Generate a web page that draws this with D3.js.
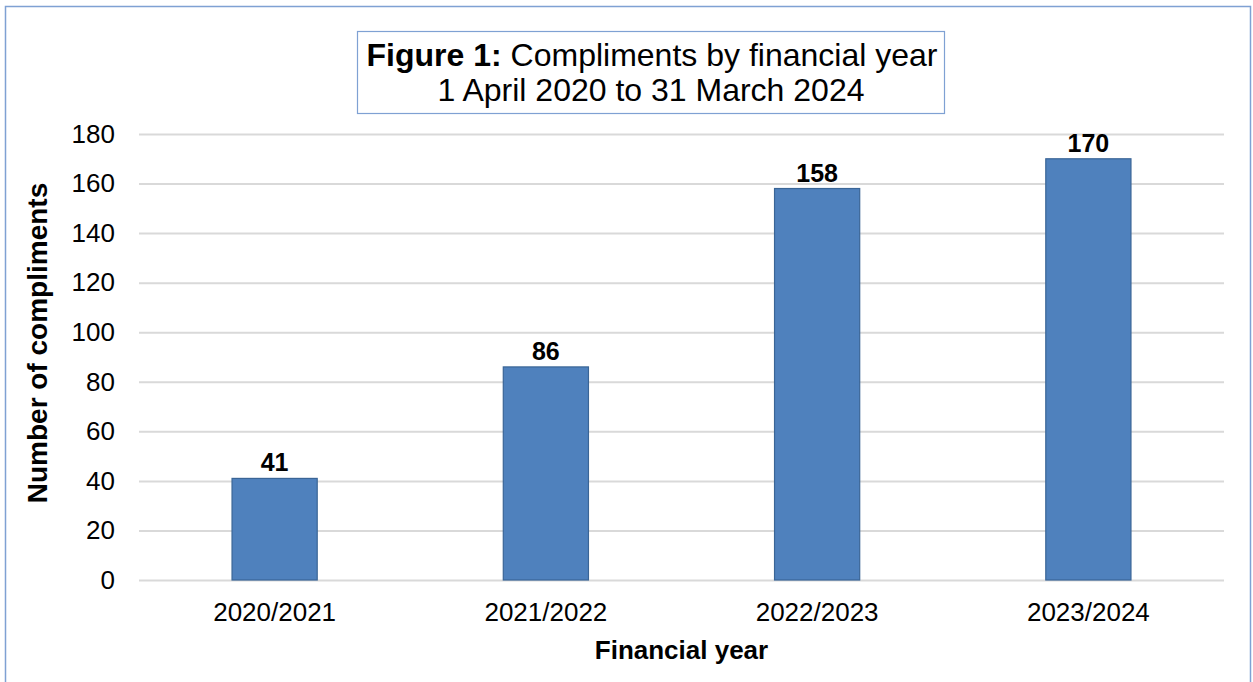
<!DOCTYPE html>
<html>
<head>
<meta charset="utf-8">
<script src="https://cdn.jsdelivr.net/npm/d3@7"></script>
<style>
  html, body { margin: 0; padding: 0; background: #fff; }
  svg { display: block; font-family: "Liberation Sans", Arial, sans-serif; }
</style>
</head>
<body>
<svg id="chart" width="1253" height="682"></svg>
<script>
// chart data
const years = ['2020/2021', '2021/2022', '2022/2023', '2023/2024'];
const compliments = [41, 86, 158, 170];
const yTicks = [0, 20, 40, 60, 80, 100, 120, 140, 160, 180];

const style = {
  width: 1253,
  height: 682,
  margin: { top: 134, right: 29, bottom: 102, left: 139 },
  barColor: '#4f81bd',
  barStroke: '#3a6596',
  gridColor: '#d9d9d9',
  frameColor: '#7fa1d3'
};

const font = '"Liberation Sans", Arial, sans-serif';
const svg = d3.select('#chart');
const plotW = style.width - style.margin.left - style.margin.right;
const plotH = style.height - style.margin.top - style.margin.bottom;

// outer frame
svg
  .append('rect')
  .attr('x', 5.5)
  .attr('y', 6.5)
  .attr('width', 1245)
  .attr('height', 690)
  .attr('fill', 'none')
  .attr('stroke', style.frameColor)
  .attr('stroke-width', 1.5);

const x = d3
  .scaleBand()
  .domain(years)
  .range([style.margin.left, style.margin.left + plotW])
  .paddingInner(0.686)
  .paddingOuter(0.343);

const y = d3
  .scaleLinear()
  .domain([0, 180])
  .range([style.margin.top + plotH, style.margin.top]);

// gridlines + y labels
const yAxis = (g) =>
  g
    .attr('transform', `translate(${style.margin.left},0)`)
    .call(d3.axisLeft(y).tickValues(yTicks).tickSize(-plotW).tickPadding(24))
    .call((g) => g.select('.domain').remove())
    .call((g) =>
      g
        .selectAll('.tick line')
        .attr('stroke', style.gridColor)
        .attr('stroke-width', 2)
    )
    .call((g) =>
      g
        .selectAll('.tick text')
        .attr('fill', '#000')
        .style('font-size', '26px')
        .style('font-family', font)
    );

svg.append('g').call(yAxis);

// x labels
const xAxis = (g) =>
  g
    .attr('transform', `translate(0,${style.margin.top + plotH})`)
    .call(d3.axisBottom(x).tickSize(0).tickPadding(23))
    .call((g) => g.select('.domain').remove())
    .call((g) =>
      g
        .selectAll('.tick text')
        .attr('fill', '#000')
        .style('font-size', '26px')
        .style('font-family', font)
    );

svg.append('g').call(xAxis);

// bars
const bars = svg
  .append('g')
  .selectAll('g')
  .data(years.map((d, i) => ({ year: d, value: compliments[i] })))
  .join('g');

bars
  .append('rect')
  .attr('x', (d) => x(d.year))
  .attr('y', (d) => y(d.value))
  .attr('width', x.bandwidth())
  .attr('height', (d) => y(0) - y(d.value))
  .attr('fill', style.barColor)
  .attr('stroke', style.barStroke)
  .attr('stroke-width', 1.2);

bars
  .append('text')
  .attr('x', (d) => x(d.year) + x.bandwidth() / 2)
  .attr('y', (d) => y(d.value) - 7)
  .attr('text-anchor', 'middle')
  .style('font-size', '25px')
  .style('font-weight', 'bold')
  .text((d) => d.value);

// axis titles
svg
  .append('text')
  .attr('x', style.margin.left + plotW / 2)
  .attr('y', 659)
  .attr('text-anchor', 'middle')
  .style('font-size', '26px')
  .style('font-weight', 'bold')
  .text('Financial year');

svg
  .append('text')
  .attr('transform', `translate(47,343) rotate(-90)`)
  .attr('text-anchor', 'middle')
  .style('font-size', '28px')
  .style('font-weight', 'bold')
  .text('Number of compliments');

// title box
svg
  .append('rect')
  .attr('x', 357.5)
  .attr('y', 31.5)
  .attr('width', 587)
  .attr('height', 82)
  .attr('fill', '#fff')
  .attr('stroke', style.frameColor)
  .attr('stroke-width', 1.2);

const title = svg
  .append('text')
  .attr('x', 652)
  .attr('y', 66)
  .attr('text-anchor', 'middle')
  .style('font-size', '32px');
title.append('tspan').style('font-weight', 'bold').text('Figure 1:');
title.append('tspan').text(' Compliments by financial year');

svg
  .append('text')
  .attr('x', 651)
  .attr('y', 101)
  .attr('text-anchor', 'middle')
  .style('font-size', '32px')
  .text('1 April 2020 to 31 March 2024');
</script>
</body>
</html>
